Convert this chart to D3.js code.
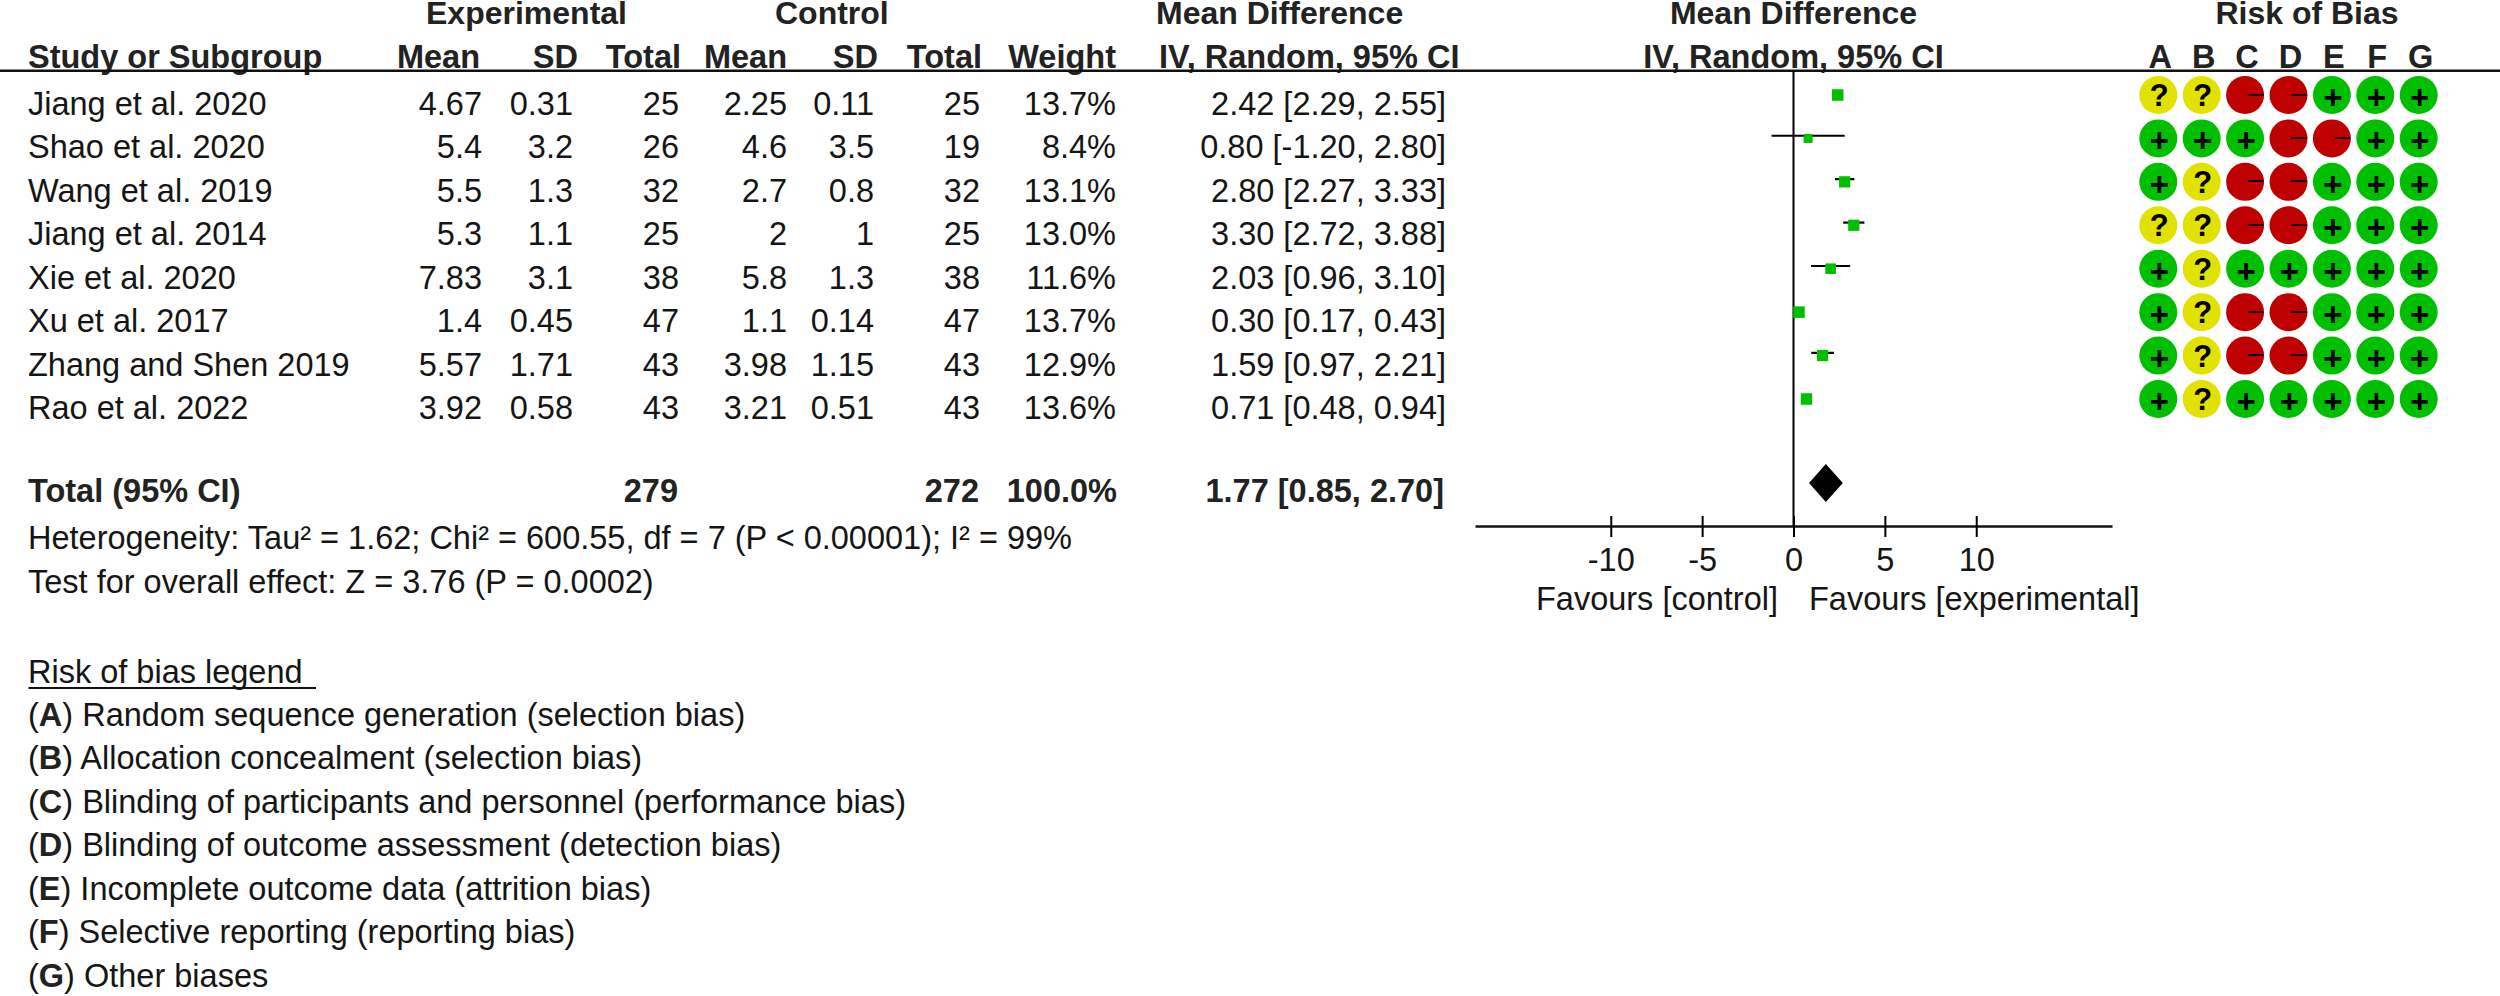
<!DOCTYPE html>
<html>
<head>
<meta charset="utf-8">
<script src="https://cdn.jsdelivr.net/npm/d3@7"></script>
<style>
  html, body { margin: 0; padding: 0; background: #fff; }
  svg { display: block; }
  text { font-family: "Liberation Sans", Arial, sans-serif; font-size: 32.5px; fill: #151515; }
  .bold { font-weight: bold; fill: #222; }
  .top { font-size: 32px; }
</style>
</head>
<body>
<svg id="chart"></svg>
<script>
const studies = ['Jiang et al. 2020', 'Shao et al. 2020', 'Wang et al. 2019', 'Jiang et al. 2014', 'Xie et al. 2020', 'Xu et al. 2017', 'Zhang and Shen 2019', 'Rao et al. 2022']
const expMean = ['4.67', '5.4', '5.5', '5.3', '7.83', '1.4', '5.57', '3.92']
const expSD = ['0.31', '3.2', '1.3', '1.1', '3.1', '0.45', '1.71', '0.58']
const expTotal = [25, 26, 32, 25, 38, 47, 43, 43]
const ctlMean = ['2.25', '4.6', '2.7', '2', '5.8', '1.1', '3.98', '3.21']
const ctlSD = ['0.11', '3.5', '0.8', '1', '1.3', '0.14', '1.15', '0.51']
const ctlTotal = [25, 19, 32, 25, 38, 47, 43, 43]
const weights = [13.7, 8.4, 13.1, 13.0, 11.6, 13.7, 12.9, 13.6]
const md = [2.42, 0.80, 2.80, 3.30, 2.03, 0.30, 1.59, 0.71]
const ciLow = [2.29, -1.20, 2.27, 2.72, 0.96, 0.17, 0.97, 0.48]
const ciHigh = [2.55, 2.80, 3.33, 3.88, 3.10, 0.43, 2.21, 0.94]
const pooled = [1.77, 0.85, 2.70]
const totals = ['279', '272', '100.0%']
const axisTicks = [-10, -5, 0, 5, 10]

const robDomains = ['A', 'B', 'C', 'D', 'E', 'F', 'G']
const robRows = [
  '??--+++',
  '+++--++',
  '+?--+++',
  '??--+++',
  '+?+++++',
  '+?--+++',
  '+?--+++',
  '+?+++++'
]
const legendBold = ['A', 'B', 'C', 'D', 'E', 'F', 'G']
const legendText = [
  'Random sequence generation (selection bias)',
  'Allocation concealment (selection bias)',
  'Blinding of participants and personnel (performance bias)',
  'Blinding of outcome assessment (detection bias)',
  'Incomplete outcome data (attrition bias)',
  'Selective reporting (reporting bias)',
  'Other biases'
]

// plain hyphen for negatives, like the original
d3.formatDefaultLocale({ decimal: '.', thousands: ',', grouping: [3], currency: ['$', ''], minus: '-' })

const width = 2500
const height = 996
const svg = d3.select('#chart').attr('width', width).attr('height', height)

const rows = d3.range(studies.length)
const rowY = d3.scaleLinear().domain([0, 7]).range([95, 399])
const x = d3.scaleLinear().domain([-17.43, 17.43]).range([1475, 2112])
const robX = d3.scalePoint().domain(robDomains).range([2158.3, 2418.7])
const size = d3.scaleSqrt().domain([0, 13.7]).range([0, 11.5])
const fmt = d3.format('.2f')
const textBase = i => rowY(i) + 20

function put(str, px, py, anchor, cls) {
  return svg.append('text')
    .attr('x', px)
    .attr('y', py)
    .attr('text-anchor', anchor || 'start')
    .attr('class', cls || null)
    .text(str)
}

// header
put('Experimental', 426, 24, 'start', 'bold top')
put('Control', 775, 24, 'start', 'bold top')
put('Mean Difference', 1156, 24, 'start', 'bold top')
put('Mean Difference', x(0), 24, 'middle', 'bold top')
put('Risk of Bias', 2307, 24, 'middle', 'bold top')
put('Study or Subgroup', 28, 68, 'start', 'bold')
put('Mean', 480, 68, 'end', 'bold')
put('SD', 578, 68, 'end', 'bold')
put('Total', 681, 68, 'end', 'bold')
put('Mean', 787, 68, 'end', 'bold')
put('SD', 878, 68, 'end', 'bold')
put('Total', 982, 68, 'end', 'bold')
put('Weight', 1116, 68, 'end', 'bold')
put('IV, Random, 95% CI', 1159, 68, 'start', 'bold')
put('IV, Random, 95% CI', x(0), 68, 'middle', 'bold')
robDomains.forEach(d => put(d, robX(d) + 2, 68, 'middle', 'bold'))

svg.append('line')
  .attr('x1', 0).attr('x2', width)
  .attr('y1', 70.7).attr('y2', 70.7)
  .attr('stroke', '#111').attr('stroke-width', 2.6)

// study table
const columns = [
  { values: expMean, right: 482 },
  { values: expSD, right: 573 },
  { values: expTotal, right: 679 },
  { values: ctlMean, right: 787 },
  { values: ctlSD, right: 874 },
  { values: ctlTotal, right: 980 },
  { values: weights.map(w => d3.format('.1f')(w) + '%'), right: 1116 },
  { values: rows.map(i => `${fmt(md[i])} [${fmt(ciLow[i])}, ${fmt(ciHigh[i])}]`), right: 1446 }
]
rows.forEach(i => put(studies[i], 28, textBase(i)))
columns.forEach(c => {
  rows.forEach(i => put(c.values[i], c.right, textBase(i), 'end'))
})

// totals and notes
put('Total (95% CI)', 28, 501.7, 'start', 'bold')
put(totals[0], 678, 501.7, 'end', 'bold')
put(totals[1], 979, 501.7, 'end', 'bold')
put(totals[2], 1117, 501.7, 'end', 'bold')
put(`${fmt(pooled[0])} [${fmt(pooled[1])}, ${fmt(pooled[2])}]`, 1444, 501.7, 'end', 'bold')
put('Heterogeneity: Tau² = 1.62; Chi² = 600.55, df = 7 (P < 0.00001); I² = 99%', 28, 549)
put('Test for overall effect: Z = 3.76 (P = 0.0002)', 28, 592.7)

// risk of bias legend
put('Risk of bias legend', 28, 683)
svg.append('line')
  .attr('x1', 28.5).attr('x2', 316)
  .attr('y1', 688).attr('y2', 688)
  .attr('stroke', '#111').attr('stroke-width', 1.8)

const legendY = d3.scaleLinear().domain([0, 6]).range([726, 986.7])
legendText.forEach((t, i) => {
  const line = put('(', 28, legendY(i))
  line.append('tspan').attr('class', 'bold').text(legendBold[i])
  line.append('tspan').text(') ' + t)
})

// forest plot
svg.append('line')
  .attr('x1', x(0)).attr('x2', x(0))
  .attr('y1', 71).attr('y2', 526)
  .attr('stroke', '#000').attr('stroke-width', 2)

const axis = d3.axisBottom(x)
  .tickValues(axisTicks)
  .tickSizeInner(11)
  .tickSizeOuter(0)
  .tickPadding(10.5)
  .tickFormat(d3.format('d'))

const axisG = svg.append('g')
  .attr('transform', 'translate(0,526)')
  .call(axis)
axisG.select('.domain').attr('stroke', '#111').attr('stroke-width', 2.6)
axisG.selectAll('.tick line')
  .attr('y1', -10)
  .attr('stroke', '#000')
  .attr('stroke-width', 2)
axisG.selectAll('.tick text')
  .style('font-size', '32.5px')
  .style('font-family', '"Liberation Sans", Arial, sans-serif')
  .attr('fill', '#151515')

put('Favours [control]', 1778, 610, 'end')
put('Favours [experimental]', 1809, 610)

svg.selectAll('line.ci')
  .data(rows)
  .join('line')
  .attr('class', 'ci')
  .attr('x1', i => x(ciLow[i]))
  .attr('x2', i => x(ciHigh[i]))
  .attr('y1', i => rowY(i) - 2.7)
  .attr('y2', i => rowY(i) - 2.7)
  .attr('stroke', '#000')
  .attr('stroke-width', 2.2)

svg.selectAll('rect.study')
  .data(rows)
  .join('rect')
  .attr('class', 'study')
  .attr('x', i => x(md[i]) - size(weights[i]) / 2)
  .attr('y', i => rowY(i) - size(weights[i]) / 2)
  .attr('width', i => size(weights[i]))
  .attr('height', i => size(weights[i]))
  .attr('fill', '#00bf00')

const diamond = d3.line()
svg.append('path')
  .attr('d', diamond([
    [x(pooled[1]), 483],
    [x(pooled[0]), 464],
    [x(pooled[2]), 483],
    [x(pooled[0]), 502]
  ]) + 'Z')
  .attr('fill', '#000')

// risk of bias dots
const robColor = d3.scaleOrdinal().domain(['+', '?', '-']).range(['#00bf00', '#e2e200', '#bf0000'])
const cells = rows.flatMap(i => robDomains.map((d, j) => ({ row: i, domain: d, mark: robRows[i][j] })))

const cell = svg.selectAll('g.rob')
  .data(cells)
  .join('g')
  .attr('class', 'rob')
  .attr('transform', d => `translate(${robX(d.domain)},${rowY(d.row)})`)

cell.append('circle')
  .attr('r', 19)
  .attr('fill', d => robColor(d.mark))

cell.append('text')
  .attr('text-anchor', d => (d.mark === '-' ? 'start' : 'middle'))
  .attr('x', d => (d.mark === '-' ? 2.3 : 1))
  .attr('y', d => (d.mark === '-' ? 6.5 : d.mark === '+' ? 14 : 11))
  .attr('class', d => (d.mark === '-' ? null : 'bold'))
  .style('font-size', d => (d.mark === '+' ? '33px' : d.mark === '?' ? '31px' : '28px'))
  .style('fill', '#000')
  .text(d => (d.mark === '-' ? '–' : d.mark))
</script>
</body>
</html>
